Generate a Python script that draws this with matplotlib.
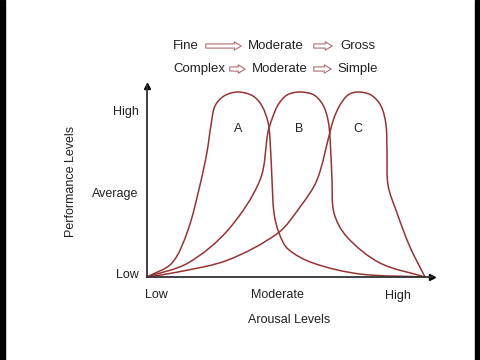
import matplotlib
matplotlib.use("Agg")
import numpy as np
from matplotlib import pyplot as plt
from matplotlib.path import Path
from matplotlib.patches import PathPatch, FancyArrowPatch, Rectangle

plt.rcParams['font.family'] = ['Liberation Sans', 'DejaVu Sans']

# traced curve nodes (arousal, performance), arbitrary units
arousal_a = [0, 25, 41, 53, 60, 64, 68, 77, 91, 106, 115, 121, 123, 125, 127, 132, 141, 166, 213, 278]
perf_a = [0, 14, 47, 92, 125, 152, 171, 181, 185, 181, 171, 155, 138, 97, 64, 44, 28, 14, 3, 0]
arousal_b = [0, 41, 81, 113, 121, 125, 131, 140, 153, 167, 176, 181, 183, 185, 187, 200, 233, 278]
perf_b = [0, 14, 47, 97, 145, 158, 172, 182, 185, 182, 172, 157, 140, 97, 64, 40, 14, 0]
arousal_c = [0, 31, 81, 131, 153, 170, 183, 187, 193, 201, 211, 224, 234, 239, 240, 241, 250, 263, 278]
perf_c = [0, 5, 17, 44, 70, 97, 145, 159, 172, 182, 185, 182, 171, 152, 125, 92, 64, 30, 0]

curve_names = ['A', 'B', 'C']
name_x = [91, 152, 211]
name_y = [148, 148, 148]

x_ticks = [9, 130, 251]
x_labels = ['Low', 'Moderate', 'High']
y_ticks = [4, 85, 167]
y_labels = ['Low', 'Average', 'High']

row1 = ['Fine', 'Moderate', 'Gross']
row2 = ['Complex', 'Moderate', 'Simple']

line_col = '#963434'
txt_col = '#222222'


def smooth_path(xs, ys):
    # chord-length catmull-rom through the nodes, as cubic bezier
    p = np.column_stack([xs, ys]).astype(float)
    d = np.hypot(*np.diff(p, axis=0).T)
    t = np.concatenate([[0], np.cumsum(d)])
    m = np.zeros_like(p)
    m[0] = (p[1] - p[0]) / d[0]
    m[-1] = (p[-1] - p[-2]) / d[-1]
    for i in range(1, len(p) - 1):
        m[i] = (p[i + 1] - p[i - 1]) / (t[i + 1] - t[i - 1])
    verts = [p[0]]
    codes = [Path.MOVETO]
    for i in range(len(p) - 1):
        verts += [p[i] + m[i] * d[i] / 3, p[i + 1] - m[i + 1] * d[i] / 3, p[i + 1]]
        codes += [Path.CURVE4] * 3
    return Path(verts, codes)


fig = plt.figure(figsize=(4.8, 3.6), dpi=100)
ax = fig.add_axes([147 / 480, 83 / 360, 285 / 480, 191 / 360])
ax.set_xlim(0, 285)
ax.set_ylim(0, 191)

for xs, ys in [(arousal_a, perf_a), (arousal_b, perf_b), (arousal_c, perf_c)]:
    ax.add_patch(PathPatch(smooth_path(xs, ys), fc='none', ec=line_col, lw=1.1, clip_on=False))

for n, x, y in zip(curve_names, name_x, name_y):
    ax.text(x, y, n, ha='center', va='center', fontsize=9, color=txt_col)

for s in ['top', 'right']:
    ax.spines[s].set_visible(False)
for s in ['left', 'bottom']:
    ax.spines[s].set_color('#333333')
    ax.spines[s].set_linewidth(1.3)
ax.plot([285], [0], marker='>', color='black', ms=5, clip_on=False)
ax.plot([0], [191], marker='^', color='black', ms=5, clip_on=False)

ax.set_xticks(x_ticks)
ax.set_xticklabels(x_labels, fontsize=9, color=txt_col)
ax.set_yticks(y_ticks)
ax.set_yticklabels(y_labels, fontsize=9, color=txt_col)
ax.tick_params(length=0)
ax.tick_params(axis='x', pad=9)
ax.tick_params(axis='y', pad=6)
ax.set_xlabel('Arousal Levels', fontsize=9, color=txt_col, labelpad=9)
ax.set_ylabel('Performance Levels', fontsize=9, color=txt_col, labelpad=11)


# header rows with hollow arrows
def header(words, xs, arrows, py):
    y = 1 - py / 360
    for w, x in zip(words, xs):
        fig.text(x / 480, y, w, ha='left', va='center', fontsize=9.5, color=txt_col)
    for a0, a1 in arrows:
        fig.add_artist(FancyArrowPatch((a0 / 480, y), (a1 / 480, y), transform=fig.transFigure,
                                       arrowstyle='simple,head_length=0.5,head_width=0.6,tail_width=0.3',
                                       mutation_scale=10, fc='white', ec='#b07070', lw=0.8))


header(row1, [173, 248, 340], [(203, 244), (311, 335)], 46)
header(row2, [173, 252, 337], [(227, 248), (311, 334)], 69)

# letterbox bars
fig.patches.append(Rectangle((0, 0), 5 / 480, 1, transform=fig.transFigure, color='black', zorder=0))
fig.patches.append(Rectangle((475 / 480, 0), 5 / 480, 1, transform=fig.transFigure, color='black', zorder=0))

fig.savefig('out.png', dpi=100)
